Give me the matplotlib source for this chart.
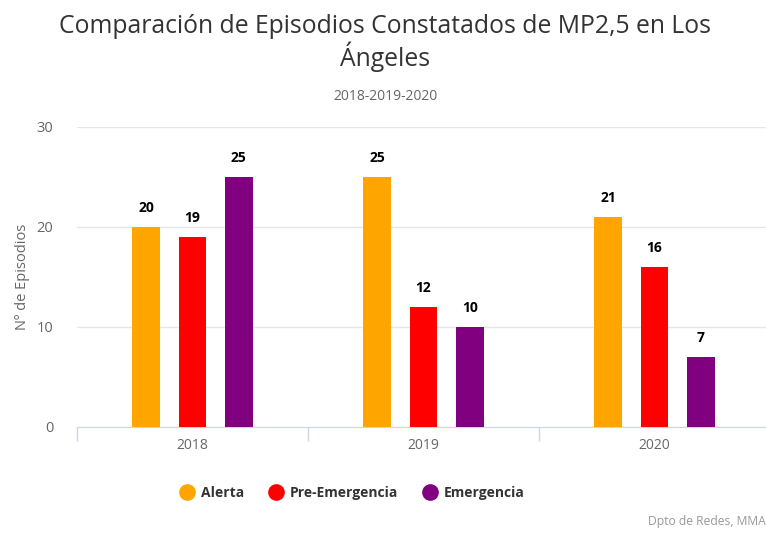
import numpy as np
import matplotlib.pyplot as plt
from matplotlib.lines import Line2D

# datos
years = ['2018', '2019', '2020']
alerta = [20, 25, 21]
pre_emergencia = [19, 12, 16]
emergencia = [25, 10, 7]

series = [('Alerta', alerta, '#FFA500'),
          ('Pre-Emergencia', pre_emergencia, '#FF0000'),
          ('Emergencia', emergencia, '#800080')]

plt.rcParams['font.family'] = ['Open Sans', 'DejaVu Sans']

fig = plt.figure(figsize=(7.66, 5.34), dpi=100)
W, H = 766, 534
# area del grafico en pixeles: izq 77, der 770 (recortado), arriba 127 (30), abajo 427 (0)
ax = fig.add_axes([77 / W, 1 - 427 / H, (770 - 77) / W, 300 / H])

x = np.arange(len(years))
offsets = [-0.2, 0.0, 0.2]
width = 0.12
for (name, vals, color), off in zip(series, offsets):
    bars = ax.bar(x + off, vals, width, color=color, label=name, zorder=3)
    for b, v in zip(bars, vals):
        ax.text(b.get_x() + b.get_width() / 2, v + 1.2, str(v),
                ha='center', va='bottom', fontsize=10, fontweight='bold', color='#000000')

ax.set_xlim(-0.5, 2.5)
ax.set_ylim(0, 30)
ax.set_yticks([0, 10, 20, 30])
ax.yaxis.grid(True, color='#e6e6e6', linewidth=1, zorder=0)
for s in ['top', 'right', 'left']:
    ax.spines[s].set_visible(False)
ax.spines['bottom'].set_color('#ccd6eb')
ax.tick_params(axis='y', length=0, colors='#666666', labelsize=10.5, pad=17)
ax.set_xticks(x)
ax.set_xticklabels(years)
ax.tick_params(axis='x', length=0, colors='#666666', labelsize=10, pad=8)
# marcas entre categorias
ax.set_xticks([-0.5, 0.5, 1.5], minor=True)
ax.tick_params(axis='x', which='minor', length=10, color='#ccd6eb', width=1)
ax.set_ylabel('Nº de Episodios', color='#666666', fontsize=10.5, labelpad=5)

fig.text(385 / W, 1 - 43 / H, 'Comparación de Episodios Constatados de MP2,5 en Los\nÁngeles',
         ha='center', va='center', fontsize=17.8, color='#333333', linespacing=1.1)
fig.text(385 / W, 1 - 97 / H, '2018-2019-2020', ha='center', va='center',
         fontsize=10, color='#666666')

# leyenda con circulos
handles = [Line2D([], [], marker='o', linestyle='', markersize=11, color=c) for _, _, c in series]
leg = fig.legend(handles, [n for n, _, _ in series], loc='center',
                 bbox_to_anchor=(352 / W, 1 - 493 / H), ncol=3, frameon=False,
                 handlelength=1.0, columnspacing=1.8, handletextpad=0.5,
                 prop={'size': 10, 'weight': 'bold'})
for t in leg.get_texts():
    t.set_color('#333333')

fig.text(648 / W, 1 - 521 / H, 'Dpto de Redes, MMA', ha='left', va='center',
         fontsize=8.7, color='#999999')

fig.savefig('out.png', dpi=100)
